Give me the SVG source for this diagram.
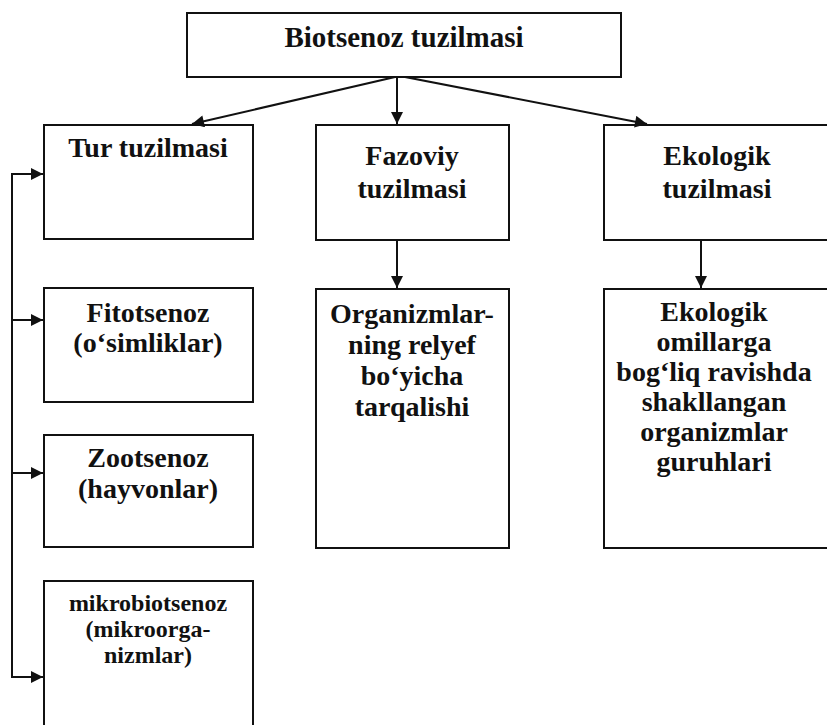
<svg xmlns="http://www.w3.org/2000/svg" width="827" height="725" viewBox="0 0 827 725">
<style>
.box{fill:#fff;stroke:#111;stroke-width:2}
.t{font-family:"Liberation Serif","Times New Roman",serif;font-weight:bold;fill:#111;text-anchor:middle}
.b{font-size:28px}
.s{font-size:24px}
.c{fill:none;stroke:#111;stroke-width:2}
</style>
<defs>
<marker id="ah" viewBox="0 0 10 10" refX="10" refY="5" markerWidth="6.5" markerHeight="6" markerUnits="strokeWidth" orient="auto">
<path d="M0,0 L10,5 L0,10 z" fill="#111"/>
</marker>
</defs>
<rect width="827" height="725" fill="#fff"/>
<g id="top">
<rect class="box" x="187" y="13" width="434" height="64"/>
<text class="t" x="404" y="47" style="font-size:29px">Biotsenoz tuzilmasi</text>
</g>
<g id="tur">
<rect class="box" x="44" y="125" width="209" height="114"/>
<text class="t b" x="148" y="157">Tur tuzilmasi</text>
</g>
<g id="fazoviy">
<rect class="box" x="316" y="125" width="193" height="115"/>
<text class="t b" x="412" y="165">Fazoviy</text>
<text class="t b" x="412" y="198">tuzilmasi</text>
</g>
<g id="ekologik">
<rect class="box" x="604" y="125" width="240" height="115"/>
<text class="t b" x="717" y="165">Ekologik</text>
<text class="t b" x="717" y="198">tuzilmasi</text>
</g>
<g id="fitotsenoz">
<rect class="box" x="44" y="288" width="209" height="114"/>
<text class="t b" x="148" y="322">Fitotsenoz</text>
<text class="t b" x="148" y="352">(o‘simliklar)</text>
</g>
<g id="zootsenoz">
<rect class="box" x="44" y="435" width="209" height="112"/>
<text class="t b" x="148" y="467">Zootsenoz</text>
<text class="t b" x="148" y="498">(hayvonlar)</text>
</g>
<g id="mikrobiotsenoz">
<rect class="box" x="44" y="581" width="209" height="160"/>
<text class="t s" x="148" y="611">mikrobiotsenoz</text>
<text class="t s" x="148" y="637">(mikroorga-</text>
<text class="t s" x="148" y="663">nizmlar)</text>
</g>
<g id="organizmlar">
<rect class="box" x="316" y="289" width="193" height="259"/>
<text class="t b" x="412" y="323">Organizmlar-</text>
<text class="t b" x="412" y="354">ning relyef</text>
<text class="t b" x="412" y="385">bo‘yicha</text>
<text class="t b" x="412" y="416">tarqalishi</text>
</g>
<g id="ekologik-guruhlar">
<rect class="box" x="604" y="289" width="240" height="259"/>
<text class="t b" x="714" y="321">Ekologik</text>
<text class="t b" x="714" y="351">omillarga</text>
<text class="t b" x="714" y="381">bog‘liq ravishda</text>
<text class="t b" x="714" y="411">shakllangan</text>
<text class="t b" x="714" y="441">organizmlar</text>
<text class="t b" x="714" y="471">guruhlari</text>
</g>
<g id="connectors">
<line class="c" x1="395" y1="77" x2="192" y2="124" marker-end="url(#ah)"/>
<line class="c" x1="397" y1="77" x2="397" y2="124" marker-end="url(#ah)"/>
<line class="c" x1="405" y1="77" x2="647" y2="124" marker-end="url(#ah)"/>
<line class="c" x1="397" y1="240" x2="397" y2="288" marker-end="url(#ah)"/>
<line class="c" x1="701" y1="240" x2="701" y2="288" marker-end="url(#ah)"/>
<path class="c" d="M12,174 V677"/>
<line class="c" x1="11" y1="174" x2="43" y2="174" marker-end="url(#ah)"/>
<line class="c" x1="12" y1="320" x2="43" y2="320" marker-end="url(#ah)"/>
<line class="c" x1="12" y1="473" x2="43" y2="473" marker-end="url(#ah)"/>
<line class="c" x1="11" y1="677" x2="43" y2="677" marker-end="url(#ah)"/>
</g>
</svg>
